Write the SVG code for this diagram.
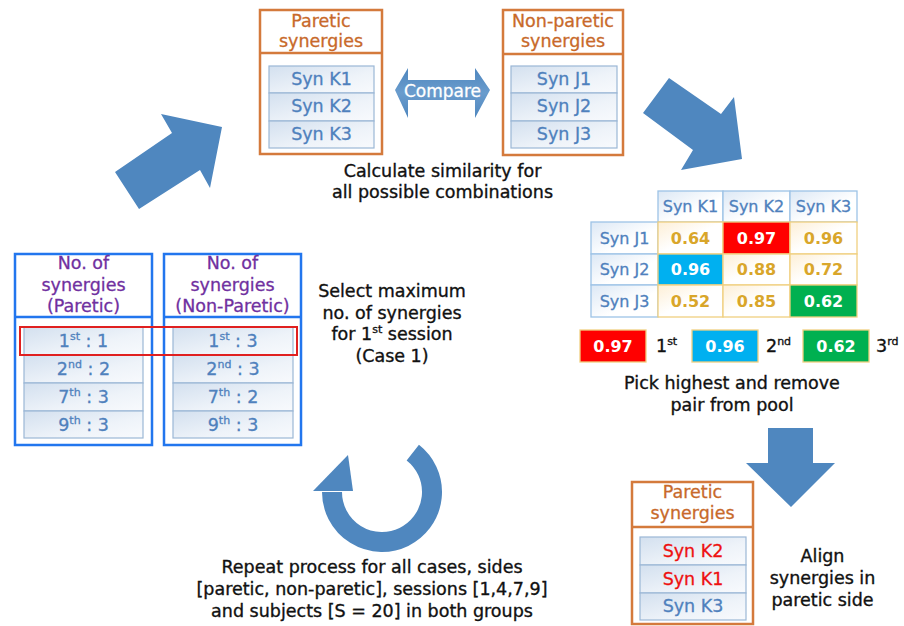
<svg xmlns="http://www.w3.org/2000/svg" width="904" height="626" viewBox="0 0 904 626">
<defs>
<linearGradient id="rowg" x1="0" y1="0" x2="1" y2="1">
<stop offset="0" stop-color="#D3E0EF"/>
<stop offset="0.6" stop-color="#EEF3F9"/>
<stop offset="1" stop-color="#F8FAFD"/>
</linearGradient>
<linearGradient id="hdrg" x1="0" y1="0" x2="1" y2="1">
<stop offset="0" stop-color="#DCE8F5"/>
<stop offset="0.6" stop-color="#FFFFFF"/>
</linearGradient>
<linearGradient id="valg" x1="0" y1="0" x2="1" y2="1">
<stop offset="0" stop-color="#FDEFD6"/>
<stop offset="0.5" stop-color="#FFFFFF"/>
</linearGradient>
<linearGradient id="cmpg" x1="0" y1="0" x2="0" y2="1">
<stop offset="0" stop-color="#4E86BE"/>
<stop offset="0.5" stop-color="#6A9CCD"/>
<stop offset="1" stop-color="#4E86BE"/>
</linearGradient>
<style>
text{font-family:"DejaVu Sans","Liberation Sans",sans-serif;}
.blk{fill:#111111;stroke:#111111;stroke-width:0.35;font-size:17.5px;text-anchor:middle;}
.org{fill:#C8692A;stroke:#C8692A;stroke-width:0.3;font-size:17.5px;text-anchor:middle;}
.pur{fill:#7030A0;stroke:#7030A0;stroke-width:0.3;font-size:17.5px;text-anchor:middle;}
.syn{fill:#4F81BD;stroke:#4F81BD;stroke-width:0.3;font-size:17.5px;text-anchor:middle;}
.red{fill:#EE1111;stroke:#EE1111;stroke-width:0.3;font-size:17.5px;text-anchor:middle;}
.obox{fill:#FFFFFF;stroke:#D47A3C;stroke-width:2.5;}
.bbox{fill:#FFFFFF;stroke:#2276EE;stroke-width:2.5;}
.row{fill:url(#rowg);stroke:#9BB7D6;stroke-width:1.2;}
.arr{fill:#4F87BF;}
.th{fill:url(#hdrg);stroke:#9DC3E6;stroke-width:1.3;}
.tv{fill:url(#valg);stroke:#F0D080;stroke-width:1.3;}
.tht{fill:#4F81BD;stroke:#4F81BD;stroke-width:0.3;font-size:16px;text-anchor:middle;}
.tvt{fill:#D9A62A;font-size:16px;text-anchor:middle;font-weight:bold;}
.wt{fill:#FFFFFF;font-size:16px;text-anchor:middle;font-weight:bold;}
</style>
</defs>
<rect width="904" height="626" fill="#FFFFFF"/>

<g id="connectors">
<polygon class="arr" points="115,172 172,133 161,114 222,127 210,188 200,170 139,209"/>
<polygon class="arr" points="669,78 721,114 734,97 742,159 681,170 693,150 643,113"/>
<polygon class="arr" points="768,428 813,428 813,463 835,463 791,507 746,463 768,463"/>
<path d="M412.8,452.6 A50,50 0 1 1 332,492" fill="none" stroke="#4F87BF" stroke-width="20"/>
<polygon class="arr" points="313,491 348,455 353,491"/>
</g>

<g id="paretic-top">
<rect class="obox" x="260" y="10" width="122" height="144"/>
<line x1="260" y1="53" x2="382" y2="53" stroke="#D47A3C" stroke-width="2.5"/>
<text class="org" x="321" y="27">Paretic</text>
<text class="org" x="321" y="47">synergies</text>
<rect class="row" x="269" y="66" width="105" height="27"/>
<rect class="row" x="269" y="93" width="105" height="28"/>
<rect class="row" x="269" y="121" width="105" height="27"/>
<text class="syn" x="321.5" y="85">Syn K1</text>
<text class="syn" x="321.5" y="112">Syn K2</text>
<text class="syn" x="321.5" y="140">Syn K3</text>
</g>

<g id="nonparetic-top">
<rect class="obox" x="503" y="10" width="120" height="145"/>
<line x1="503" y1="54" x2="623" y2="54" stroke="#D47A3C" stroke-width="2.5"/>
<text class="org" x="563" y="27">Non-paretic</text>
<text class="org" x="563" y="47">synergies</text>
<rect class="row" x="511" y="66" width="106" height="27"/>
<rect class="row" x="511" y="93" width="106" height="28"/>
<rect class="row" x="511" y="121" width="106" height="27"/>
<text class="syn" x="564" y="85">Syn J1</text>
<text class="syn" x="564" y="112">Syn J2</text>
<text class="syn" x="564" y="140">Syn J3</text>
</g>

<g id="compare">
<polygon fill="url(#cmpg)" points="395,90 408,68 408,80 475,80 475,68 490,90 475,118 475,100 408,100 408,118"/>
<text x="442.5" y="97" fill="#FFFFFF" stroke="#FFFFFF" stroke-width="0.3" font-size="17" text-anchor="middle">Compare</text>
</g>

<g id="calc-label">
<text class="blk" x="442.5" y="177">Calculate similarity for</text>
<text class="blk" x="442.5" y="198">all possible combinations</text>
</g>

<g id="sim-table">
<rect class="th" x="658" y="191" width="65" height="31"/>
<rect class="th" x="723" y="191" width="67" height="31"/>
<rect class="th" x="790" y="191" width="67" height="31"/>
<text class="tht" x="690.5" y="212">Syn K1</text>
<text class="tht" x="756.5" y="212">Syn K2</text>
<text class="tht" x="823.5" y="212">Syn K3</text>
<rect class="th" x="591" y="222" width="67" height="32"/>
<rect class="th" x="591" y="254" width="67" height="31"/>
<rect class="th" x="591" y="285" width="67" height="32"/>
<text class="tht" x="624.5" y="244">Syn J1</text>
<text class="tht" x="624.5" y="275">Syn J2</text>
<text class="tht" x="624.5" y="307">Syn J3</text>
<rect class="tv" x="658" y="222" width="65" height="32"/>
<rect x="723" y="222" width="67" height="32" fill="#FF0000" stroke="#F0D080" stroke-width="1.3"/>
<rect class="tv" x="790" y="222" width="67" height="32"/>
<rect x="658" y="254" width="65" height="31" fill="#00B0F0" stroke="#F0D080" stroke-width="1.3"/>
<rect class="tv" x="723" y="254" width="67" height="31"/>
<rect class="tv" x="790" y="254" width="67" height="31"/>
<rect class="tv" x="658" y="285" width="65" height="32"/>
<rect class="tv" x="723" y="285" width="67" height="32"/>
<rect x="790" y="285" width="67" height="32" fill="#00B050" stroke="#F0D080" stroke-width="1.3"/>
<text class="tvt" x="690.5" y="244">0.64</text>
<text class="wt" x="756.5" y="244">0.97</text>
<text class="tvt" x="823.5" y="244">0.96</text>
<text class="wt" x="690.5" y="275">0.96</text>
<text class="tvt" x="756.5" y="275">0.88</text>
<text class="tvt" x="823.5" y="275">0.72</text>
<text class="tvt" x="690.5" y="307">0.52</text>
<text class="tvt" x="756.5" y="307">0.85</text>
<text class="wt" x="823.5" y="307">0.62</text>
</g>

<g id="ranking">
<rect x="580" y="330" width="66" height="32" fill="#FF0000" stroke="#F0D080" stroke-width="1.3"/>
<text class="wt" x="613" y="352">0.97</text>
<text x="656" y="352" fill="#111111" stroke="#111111" stroke-width="0.35" font-size="17.5">1<tspan font-size="11" dy="-7">st</tspan></text>
<rect x="692" y="330" width="66" height="32" fill="#00B0F0" stroke="#F0D080" stroke-width="1.3"/>
<text class="wt" x="725" y="352">0.96</text>
<text x="766" y="352" fill="#111111" stroke="#111111" stroke-width="0.35" font-size="17.5">2<tspan font-size="11" dy="-7">nd</tspan></text>
<rect x="803" y="330" width="66" height="32" fill="#00B050" stroke="#F0D080" stroke-width="1.3"/>
<text class="wt" x="836" y="352">0.62</text>
<text x="876" y="352" fill="#111111" stroke="#111111" stroke-width="0.35" font-size="17.5">3<tspan font-size="11" dy="-7">rd</tspan></text>
<text class="blk" x="732" y="389">Pick highest and remove</text>
<text class="blk" x="732" y="411">pair from pool</text>
</g>

<g id="paretic-count">
<rect class="bbox" x="15" y="254" width="137" height="191"/>
<line x1="15" y1="317" x2="152" y2="317" stroke="#2276EE" stroke-width="2.5"/>
<text class="pur" x="83.5" y="269">No. of</text>
<text class="pur" x="83.5" y="291">synergies</text>
<text class="pur" x="83.5" y="312">(Paretic)</text>
<rect class="row" x="24" y="327" width="119" height="28"/>
<rect class="row" x="24" y="355" width="119" height="28"/>
<rect class="row" x="24" y="383" width="119" height="28"/>
<rect class="row" x="24" y="411" width="119" height="27"/>
<text class="syn" x="83.5" y="347">1<tspan font-size="11" dy="-7">st</tspan><tspan dy="7"> : 1</tspan></text>
<text class="syn" x="83.5" y="375">2<tspan font-size="11" dy="-7">nd</tspan><tspan dy="7"> : 2</tspan></text>
<text class="syn" x="83.5" y="403">7<tspan font-size="11" dy="-7">th</tspan><tspan dy="7"> : 3</tspan></text>
<text class="syn" x="83.5" y="431">9<tspan font-size="11" dy="-7">th</tspan><tspan dy="7"> : 3</tspan></text>
</g>

<g id="nonparetic-count">
<rect class="bbox" x="164" y="254" width="137" height="191"/>
<line x1="164" y1="317" x2="301" y2="317" stroke="#2276EE" stroke-width="2.5"/>
<text class="pur" x="232.5" y="269">No. of</text>
<text class="pur" x="232.5" y="291">synergies</text>
<text class="pur" x="232.5" y="312">(Non-Paretic)</text>
<rect class="row" x="173" y="327" width="120" height="28"/>
<rect class="row" x="173" y="355" width="120" height="28"/>
<rect class="row" x="173" y="383" width="120" height="28"/>
<rect class="row" x="173" y="411" width="120" height="27"/>
<text class="syn" x="233" y="347">1<tspan font-size="11" dy="-7">st</tspan><tspan dy="7"> : 3</tspan></text>
<text class="syn" x="233" y="375">2<tspan font-size="11" dy="-7">nd</tspan><tspan dy="7"> : 3</tspan></text>
<text class="syn" x="233" y="403">7<tspan font-size="11" dy="-7">th</tspan><tspan dy="7"> : 2</tspan></text>
<text class="syn" x="233" y="431">9<tspan font-size="11" dy="-7">th</tspan><tspan dy="7"> : 3</tspan></text>
</g>

<g id="selection">
<rect x="20" y="327" width="277" height="28" fill="none" stroke="#E02020" stroke-width="2"/>
<text class="blk" x="392" y="297">Select maximum</text>
<text class="blk" x="392" y="319">no. of synergies</text>
<text class="blk" x="392" y="340">for 1<tspan font-size="11" dy="-7">st</tspan><tspan dy="7"> session</tspan></text>
<text class="blk" x="392" y="362">(Case 1)</text>
</g>

<g id="repeat-label">
<text class="blk" x="372" y="573">Repeat process for all cases, sides</text>
<text class="blk" x="372" y="595">[paretic, non-paretic], sessions [1,4,7,9]</text>
<text class="blk" x="372" y="617">and subjects [S = 20] in both groups</text>
</g>

<g id="aligned">
<rect class="obox" x="632" y="482" width="121" height="142"/>
<line x1="632" y1="527" x2="753" y2="527" stroke="#D47A3C" stroke-width="2.5"/>
<text class="org" x="692.5" y="498">Paretic</text>
<text class="org" x="692.5" y="519">synergies</text>
<rect class="row" x="640" y="537" width="106" height="28"/>
<rect class="row" x="640" y="565" width="106" height="28"/>
<rect class="row" x="640" y="593" width="106" height="27"/>
<text class="red" x="693" y="557">Syn K2</text>
<text class="red" x="693" y="585">Syn K1</text>
<text class="syn" x="693" y="612">Syn K3</text>
</g>

<g id="align-label">
<text class="blk" x="822.5" y="562">Align</text>
<text class="blk" x="822.5" y="584">synergies in</text>
<text class="blk" x="822.5" y="606">paretic side</text>
</g>
</svg>
